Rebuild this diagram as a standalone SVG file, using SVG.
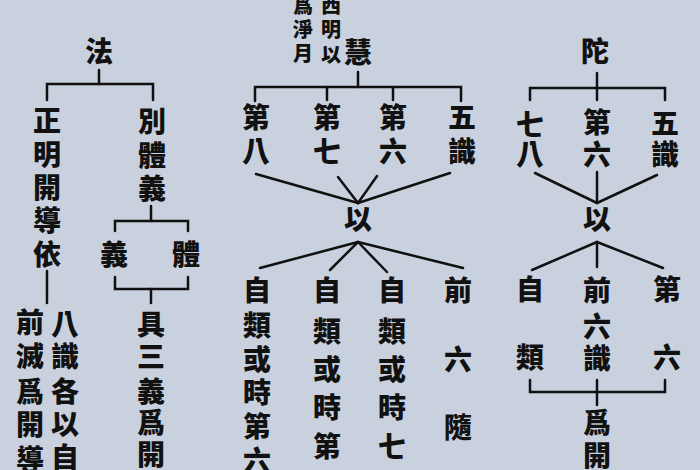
<svg xmlns="http://www.w3.org/2000/svg" width="700" height="470" viewBox="0 0 700 470">
<style>
.t{font-family:"Noto Sans CJK TC","Noto Sans CJK SC",sans-serif;font-weight:900;font-size:28px;fill:#111;text-anchor:middle}
.s{font-size:20px}
.c line,.c path{stroke:#111;stroke-width:2.5;fill:none;stroke-linecap:round;stroke-linejoin:miter}
</style>
<rect width="700" height="470" fill="#c9d1de"/>
<g class="c" id="connectors">
<!-- left -->
<line x1="99" y1="70" x2="99" y2="84"/>
<path d="M47,100 V84 H153 V100"/>
<line x1="151" y1="206" x2="151" y2="221"/>
<path d="M115,231 V221 H188 V231"/>
<path d="M115,277 V289 H188 V277"/>
<line x1="151" y1="289" x2="151" y2="303"/>
<line x1="47" y1="271" x2="47" y2="303"/>
<!-- middle -->
<line x1="358" y1="72" x2="358" y2="87"/>
<path d="M255,101 V87 H461 V101"/>
<line x1="327" y1="87" x2="327" y2="100"/>
<line x1="393" y1="87" x2="393" y2="100"/>
<line x1="256" y1="174" x2="358" y2="203"/>
<line x1="338" y1="177" x2="358" y2="203"/>
<line x1="377" y1="176" x2="358" y2="203"/>
<line x1="450" y1="173" x2="358" y2="203"/>
<line x1="358" y1="242" x2="260" y2="268"/>
<line x1="358" y1="242" x2="330" y2="270"/>
<line x1="358" y1="242" x2="387" y2="272"/>
<line x1="358" y1="242" x2="463" y2="268"/>
<!-- right -->
<line x1="597" y1="73" x2="597" y2="100"/>
<path d="M530,100 V88 H665 V100"/>
<line x1="535" y1="173" x2="597" y2="203"/>
<line x1="597" y1="172" x2="597" y2="203"/>
<line x1="657" y1="175" x2="597" y2="203"/>
<line x1="597" y1="242" x2="532" y2="270"/>
<line x1="597" y1="242" x2="597" y2="267"/>
<line x1="597" y1="242" x2="663" y2="268"/>
<path d="M530,380 V392 H665 V380"/>
<line x1="597" y1="380" x2="597" y2="405"/>
</g>
<!-- left section -->
<g id="fa"><text class="t" x="99" y="62">法</text></g>
<g id="zhengming"><text class="t" x="47" y="131">正</text><text class="t" x="47" y="165">明</text><text class="t" x="47" y="198">開</text><text class="t" x="47" y="231">導</text><text class="t" x="47" y="265">依</text></g>
<g id="bietiyi"><text class="t" x="152" y="132">別</text><text class="t" x="152" y="166">體</text><text class="t" x="152" y="199">義</text></g>
<g id="yi"><text class="t" x="114" y="265">義</text></g>
<g id="ti"><text class="t" x="186" y="265">體</text></g>
<g id="jusanyi"><text class="t" x="151" y="335">具</text><text class="t" x="151" y="367">三</text><text class="t" x="151" y="402">義</text><text class="t" x="151" y="433">爲</text><text class="t" x="151" y="465">開</text></g>
<g id="qianmie"><text class="t" x="30" y="333">前</text><text class="t" x="30" y="367">滅</text><text class="t" x="30" y="402">爲</text><text class="t" x="30" y="435">開</text><text class="t" x="30" y="470">導</text></g>
<g id="bashi"><text class="t" x="65" y="335">八</text><text class="t" x="65" y="367">識</text><text class="t" x="65" y="402">各</text><text class="t" x="65" y="435">以</text><text class="t" x="65" y="468">自</text></g>
<!-- middle section -->
<g id="note"><text class="t s" x="303" y="13">爲</text><text class="t s" x="303" y="37">淨</text><text class="t s" x="303" y="61">月</text><text class="t s" x="331" y="13">西</text><text class="t s" x="331" y="37">明</text><text class="t s" x="331" y="62">以</text></g>
<g id="hui"><text class="t" x="358" y="63">慧</text></g>
<g id="di8"><text class="t" x="256" y="128">第</text><text class="t" x="256" y="162">八</text></g>
<g id="di7"><text class="t" x="327" y="128">第</text><text class="t" x="327" y="162">七</text></g>
<g id="di6"><text class="t" x="393" y="128">第</text><text class="t" x="393" y="162">六</text></g>
<g id="wushi"><text class="t" x="462" y="128">五</text><text class="t" x="462" y="162">識</text></g>
<g id="yi-mid"><text class="t" x="358" y="230">以</text></g>
<g id="col1"><text class="t" x="257" y="301">自</text><text class="t" x="257" y="336">類</text><text class="t" x="257" y="370">或</text><text class="t" x="257" y="403">時</text><text class="t" x="257" y="437">第</text><text class="t" x="257" y="471">六</text></g>
<g id="col2"><text class="t" x="327" y="301">自</text><text class="t" x="327" y="342">類</text><text class="t" x="327" y="380">或</text><text class="t" x="327" y="418">時</text><text class="t" x="327" y="457">第</text></g>
<g id="col3"><text class="t" x="392" y="301">自</text><text class="t" x="392" y="342">類</text><text class="t" x="392" y="380">或</text><text class="t" x="392" y="418">時</text><text class="t" x="392" y="457">七</text></g>
<g id="col4"><text class="t" x="458" y="301">前</text><text class="t" x="458" y="370">六</text><text class="t" x="458" y="438">隨</text></g>
<!-- right section -->
<g id="tuo"><text class="t" x="595" y="62">陀</text></g>
<g id="qiba"><text class="t" x="530" y="135">七</text><text class="t" x="530" y="165">八</text></g>
<g id="diliu"><text class="t" x="597" y="133">第</text><text class="t" x="597" y="165">六</text></g>
<g id="wushi-r"><text class="t" x="665" y="134">五</text><text class="t" x="665" y="165">識</text></g>
<g id="yi-r"><text class="t" x="597" y="230">以</text></g>
<g id="zilei"><text class="t" x="530" y="300">自</text><text class="t" x="530" y="368">類</text></g>
<g id="qianliushi"><text class="t" x="597" y="301">前</text><text class="t" x="597" y="337">六</text><text class="t" x="597" y="369">識</text></g>
<g id="diliu-r"><text class="t" x="667" y="300">第</text><text class="t" x="667" y="368">六</text></g>
<g id="weikai"><text class="t" x="597" y="433">爲</text><text class="t" x="597" y="466">開</text></g>
</svg>
